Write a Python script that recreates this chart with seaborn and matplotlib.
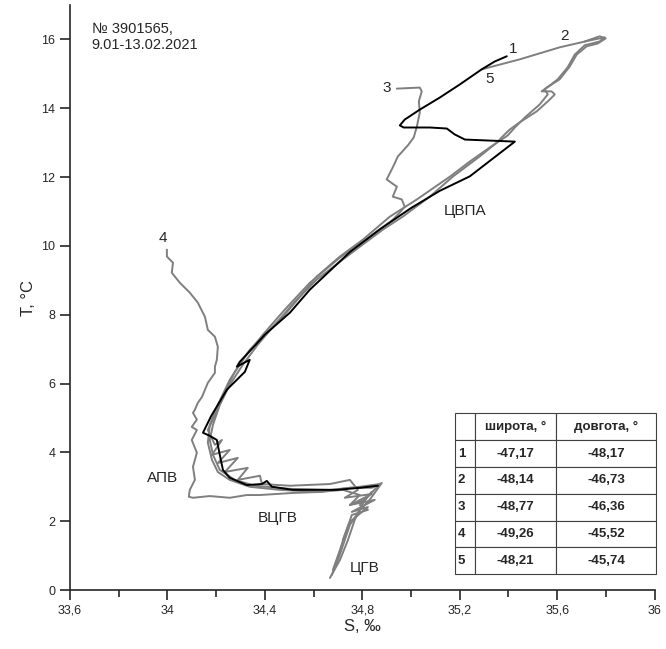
import numpy as np
import pandas as pd
import seaborn as sns
from matplotlib import pyplot as plt
from matplotlib.ticker import MultipleLocator, FuncFormatter

# TS-profiles of float 3901565 (salinity, temperature)
s1 = [35.393, 35.344, 35.290, 35.200, 35.118, 35.036, 34.974, 34.954, 34.970, 35.077, 35.147, 35.179,
      35.221, 35.323, 35.426, 35.241, 35.118, 35.000, 34.872, 34.749, 34.585, 34.503, 34.400, 34.359,
      34.297, 34.285, 34.338, 34.318, 34.244, 34.180, 34.146, 34.174, 34.203, 34.215, 34.228, 34.256,
      34.326, 34.388, 34.408, 34.429, 34.515, 34.695, 34.790, 34.864]
t1 = [15.51, 15.36, 15.13, 14.69, 14.31, 13.96, 13.67, 13.50, 13.44, 13.44, 13.41, 13.24,
      13.09, 13.06, 13.03, 12.02, 11.60, 11.10, 10.48, 9.82, 8.73, 8.06, 7.42, 7.10,
      6.63, 6.49, 6.69, 6.34, 5.82, 5.06, 4.57, 4.48, 4.36, 3.93, 3.49, 3.26,
      3.05, 3.08, 3.17, 3.00, 2.91, 2.91, 2.97, 3.03]

s2 = [35.713, 35.774, 35.799, 35.766, 35.721, 35.680, 35.651, 35.610, 35.557, 35.536, 35.577, 35.590,
      35.569, 35.516, 35.446, 35.405, 35.376, 35.352, 35.282, 35.171, 35.077, 34.966, 34.884, 34.802,
      34.708, 34.613, 34.523, 34.441, 34.371, 34.310, 34.256, 34.215, 34.187, 34.174, 34.187, 34.215,
      34.277, 34.359, 34.503, 34.667, 34.790, 34.872, 34.810, 34.839, 34.790, 34.823, 34.757, 34.728,
      34.708, 34.679]
t2 = [15.94, 16.09, 16.03, 15.88, 15.80, 15.56, 15.21, 14.84, 14.60, 14.49, 14.49, 14.40,
      14.25, 13.91, 13.59, 13.38, 13.18, 13.00, 12.60, 12.01, 11.43, 10.85, 10.47, 10.04,
      9.54, 9.02, 8.38, 7.71, 7.13, 6.55, 5.96, 5.38, 4.80, 4.36, 3.93, 3.49,
      3.20, 3.03, 2.94, 2.91, 3.00, 3.08, 2.62, 2.85, 2.47, 2.33, 2.18, 1.60,
      1.16, 0.58]

s3 = [34.942, 35.036, 35.044, 35.032, 35.036, 35.024, 35.011, 34.987, 34.946, 34.925, 34.900, 34.942,
      34.925, 34.962, 34.974, 34.954, 34.925, 34.831, 34.708, 34.585, 34.482, 34.392, 34.318, 34.256,
      34.207, 34.174, 34.166, 34.183, 34.207, 34.256, 34.338, 34.462, 34.626, 34.749, 34.839, 34.880,
      34.830, 34.790, 34.749, 34.728, 34.700, 34.675]
t3 = [14.57, 14.60, 14.49, 14.20, 13.88, 13.47, 13.15, 12.92, 12.60, 12.28, 11.93, 11.72,
      11.43, 11.35, 11.14, 10.97, 10.76, 10.27, 9.66, 8.93, 8.15, 7.42, 6.78, 6.11,
      5.38, 4.80, 4.28, 3.78, 3.43, 3.20, 3.00, 2.91, 2.85, 2.97, 2.97, 3.11,
      2.62, 2.33, 1.89, 1.45, 0.87, 0.44]

s4 = [33.998, 33.998, 34.023, 34.018, 34.051, 34.092, 34.125, 34.154, 34.166, 34.195, 34.207, 34.203,
      34.195, 34.195, 34.166, 34.142, 34.125, 34.113, 34.105, 34.121, 34.100, 34.121, 34.100, 34.121,
      34.105, 34.113, 34.092, 34.088, 34.105, 34.174, 34.256, 34.326, 34.379, 34.515, 34.626, 34.720,
      34.790, 34.749, 34.810, 34.769, 34.741, 34.708, 34.667]
t4 = [9.89, 9.69, 9.51, 9.22, 8.93, 8.64, 8.35, 7.94, 7.56, 7.36, 7.07, 6.69,
      6.49, 6.31, 6.02, 5.61, 5.44, 5.24, 5.15, 4.95, 4.74, 4.65, 4.36, 3.99,
      3.58, 3.20, 2.91, 2.71, 2.68, 2.73, 2.68, 2.76, 2.76, 2.82, 2.85, 2.91,
      2.76, 2.47, 2.62, 2.04, 1.45, 0.87, 0.35]

s5 = [35.290, 35.446, 35.610, 35.733, 35.795, 35.774, 35.713, 35.672, 35.643, 35.602, 35.549, 35.561,
      35.528, 35.467, 35.426, 35.397, 35.323, 35.241, 35.159, 35.024, 34.913, 34.802, 34.708, 34.613,
      34.544, 34.474, 34.400, 34.338, 34.277, 34.236, 34.203, 34.166, 34.195, 34.224, 34.183, 34.256,
      34.207, 34.289, 34.236, 34.330, 34.289, 34.380, 34.388, 34.503, 34.667, 34.749, 34.782, 34.728,
      34.839, 34.749, 34.851, 34.757, 34.823, 34.749, 34.720]
t5 = [15.13, 15.42, 15.77, 15.97, 16.06, 15.94, 15.83, 15.56, 15.19, 14.84, 14.55, 14.40,
      14.11, 13.73, 13.44, 13.21, 12.86, 12.45, 12.01, 11.35, 10.85, 10.18, 9.69, 9.11,
      8.52, 7.94, 7.42, 6.98, 6.34, 5.76, 5.18, 4.65, 4.22, 4.36, 3.93, 4.07,
      3.69, 3.84, 3.43, 3.55, 3.20, 3.32, 3.08, 3.03, 3.08, 3.20, 2.91, 2.68,
      2.79, 2.47, 2.62, 2.27, 2.41, 1.98, 1.45]

profiles = ["1", "2", "3", "4", "5"]
lats = ["-47,17", "-48,14", "-48,77", "-49,26", "-48,21"]
lons = ["-48,17", "-46,73", "-46,36", "-45,52", "-45,74"]

# start labels (S, T)
label_pos = {"1": (35.417, 15.71), "2": (35.631, 16.09), "3": (34.90, 14.60),
             "4": (33.982, 10.24), "5": (35.323, 14.84)}
water_masses = [("ЦВПА", 35.22, 11.0), ("АПВ", 33.98, 3.26),
                ("ВЦГВ", 34.453, 2.09), ("ЦГВ", 34.81, 0.64)]

sns.set_style("ticks")
plt.rcParams['font.family'] = ['Liberation Sans', 'DejaVu Sans']

fig = plt.figure(figsize=(6.66, 6.49), dpi=100)
ax = fig.add_axes([0.105, 0.0909, 0.878, 0.9014])

data = {"2": (s2, t2), "3": (s3, t3), "4": (s4, t4), "5": (s5, t5), "1": (s1, t1)}
for p, (s, t) in data.items():
    df = pd.DataFrame({"S": s, "T": t})
    color = "black" if p == "1" else "#7f7f7f"
    sns.lineplot(data=df, x="S", y="T", sort=False, estimator=None, color=color,
                 linewidth=1.4, ax=ax)

for p, (x, y) in label_pos.items():
    ax.text(x, y, p, fontsize=11, ha="center", va="center")
for name, x, y in water_masses:
    ax.text(x, y, name, fontsize=11, ha="center", va="center")

ax.text(33.69, 16.52, "№ 3901565,\n9.01-13.02.2021", fontsize=10.5, va="top", ha="left",
        linespacing=1.25)

ax.set_xlim(33.6, 36)
ax.set_ylim(0, 17)
ax.xaxis.set_major_locator(MultipleLocator(0.4))
ax.xaxis.set_minor_locator(MultipleLocator(0.2))
ax.yaxis.set_major_locator(MultipleLocator(2))
ax.xaxis.set_major_formatter(FuncFormatter(lambda v, _: f"{v:g}".replace(".", ",")))
ax.tick_params(axis="both", which="major", length=7, width=1.2, labelsize=9, direction="out")
ax.tick_params(axis="x", which="minor", length=5, width=1.2, direction="out")
ax.set_xlabel("S, ‰", fontsize=12, labelpad=2)
ax.set_ylabel("T, °C", fontsize=12, labelpad=4)
sns.despine(ax=ax)
ax.spines["left"].set_linewidth(1.2)
ax.spines["bottom"].set_linewidth(1.2)

# table of start coordinates
cell_text = [[p, la, lo] for p, la, lo in zip(profiles, lats, lons)]
tbl = ax.table(cellText=cell_text, colLabels=["", "широта, °", "довгота, °"],
               colWidths=[0.1, 0.4, 0.5], cellLoc="center",
               bbox=[0.658, 0.027, 0.345, 0.275])
tbl.auto_set_font_size(False)
for (r, c), cell in tbl.get_celld().items():
    cell.set_fontsize(9.5)
    cell.set_linewidth(0.8)
    cell.set_edgecolor("#404040")
    cell.get_text().set_fontweight("bold")
    if c == 0:
        cell.get_text().set_ha("left")
        cell._loc = "left"
        cell.PAD = 0.15

fig.savefig("out.png", dpi=100)
